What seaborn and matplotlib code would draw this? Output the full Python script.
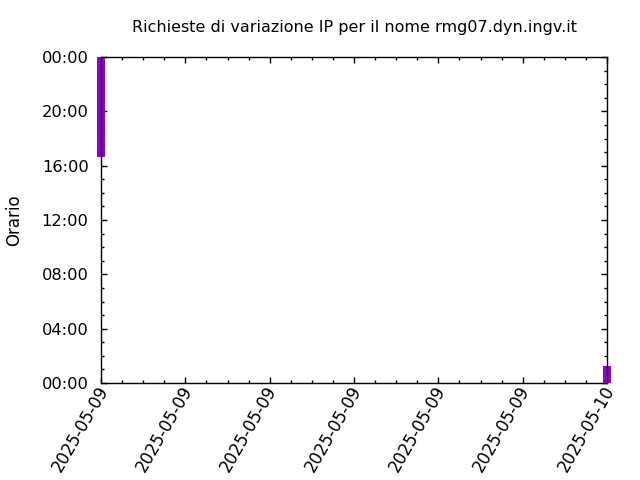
import matplotlib
matplotlib.use("Agg")
import matplotlib.pyplot as plt
import matplotlib.dates as mdates
import matplotlib.transforms as mtransforms
import seaborn as sns
import pandas as pd
import numpy as np

# Data
dates = ["2025-05-09", "2025-05-10"]
start_times = ["16:38", "00:00"]
end_times = ["24:00", "01:15"]
title = "Richieste di variazione IP per il nome rmg07.dyn.ingv.it"
ylabel = "Orario"
bar_color = "#9400D3"

sns.set_style("ticks")
plt.rcParams["font.family"] = ["DejaVu Sans"]
plt.rcParams["text.color"] = "black"
plt.rcParams["axes.labelcolor"] = "black"
plt.rcParams["xtick.color"] = "black"
plt.rcParams["ytick.color"] = "black"

def to_day_fraction(t):
    h, m = t.split(":")
    return (int(h) + int(m) / 60.0) / 24.0

base = mdates.date2num(pd.Timestamp("1970-01-01"))
x = mdates.date2num(pd.to_datetime(dates))
bottoms = np.array([base + to_day_fraction(t) for t in start_times])
tops = np.array([base + to_day_fraction(t) for t in end_times])

fig = plt.figure(figsize=(6.4, 4.8), dpi=100)
ax = fig.add_axes([101 / 640, 1 - 383 / 480, (607 - 101) / 640, (383 - 57) / 480])

ax.bar(x, tops - bottoms, bottom=bottoms, width=0.015, color=bar_color,
       linewidth=0, clip_on=False, zorder=1)

ax.set_xlim(x[0], x[-1])
ax.set_ylim(base, base + 1)

ax.xaxis.set_major_locator(mdates.HourLocator(interval=4))
ax.xaxis.set_minor_locator(mdates.HourLocator(interval=1))
ax.xaxis.set_major_formatter(mdates.DateFormatter("%Y-%m-%d"))
ax.yaxis.set_major_locator(mdates.HourLocator(interval=4))
ax.yaxis.set_minor_locator(mdates.HourLocator(interval=1))
ax.yaxis.set_major_formatter(mdates.DateFormatter("%H:%M"))

ax.tick_params(which="both", direction="in", top=True, right=True,
               bottom=True, left=True, color="black", labelcolor="black")
ax.tick_params(which="major", length=4, width=1, pad=9)
ax.tick_params(axis="y", which="major", labelsize=11.7)
ax.tick_params(axis="x", which="major", labelsize=12, pad=3)
offset = mtransforms.ScaledTranslation(3 / 100, 0, fig.dpi_scale_trans)
for lab in ax.get_xticklabels():
    lab.set_rotation(60)
    lab.set_ha("right")
    lab.set_rotation_mode("anchor")
    lab.set_va("center")
    lab.set_transform(lab.get_transform() + offset)
ax.tick_params(which="minor", length=2, width=1)

for s in ax.spines.values():
    s.set_color("black")
    s.set_linewidth(1)
    s.set_zorder(3)

ax.set_title(title, fontsize=11.5, pad=18, color="black")
ax.set_ylabel(ylabel, fontsize=12, labelpad=13, color="black")

fig.savefig("out.png", dpi=100)
